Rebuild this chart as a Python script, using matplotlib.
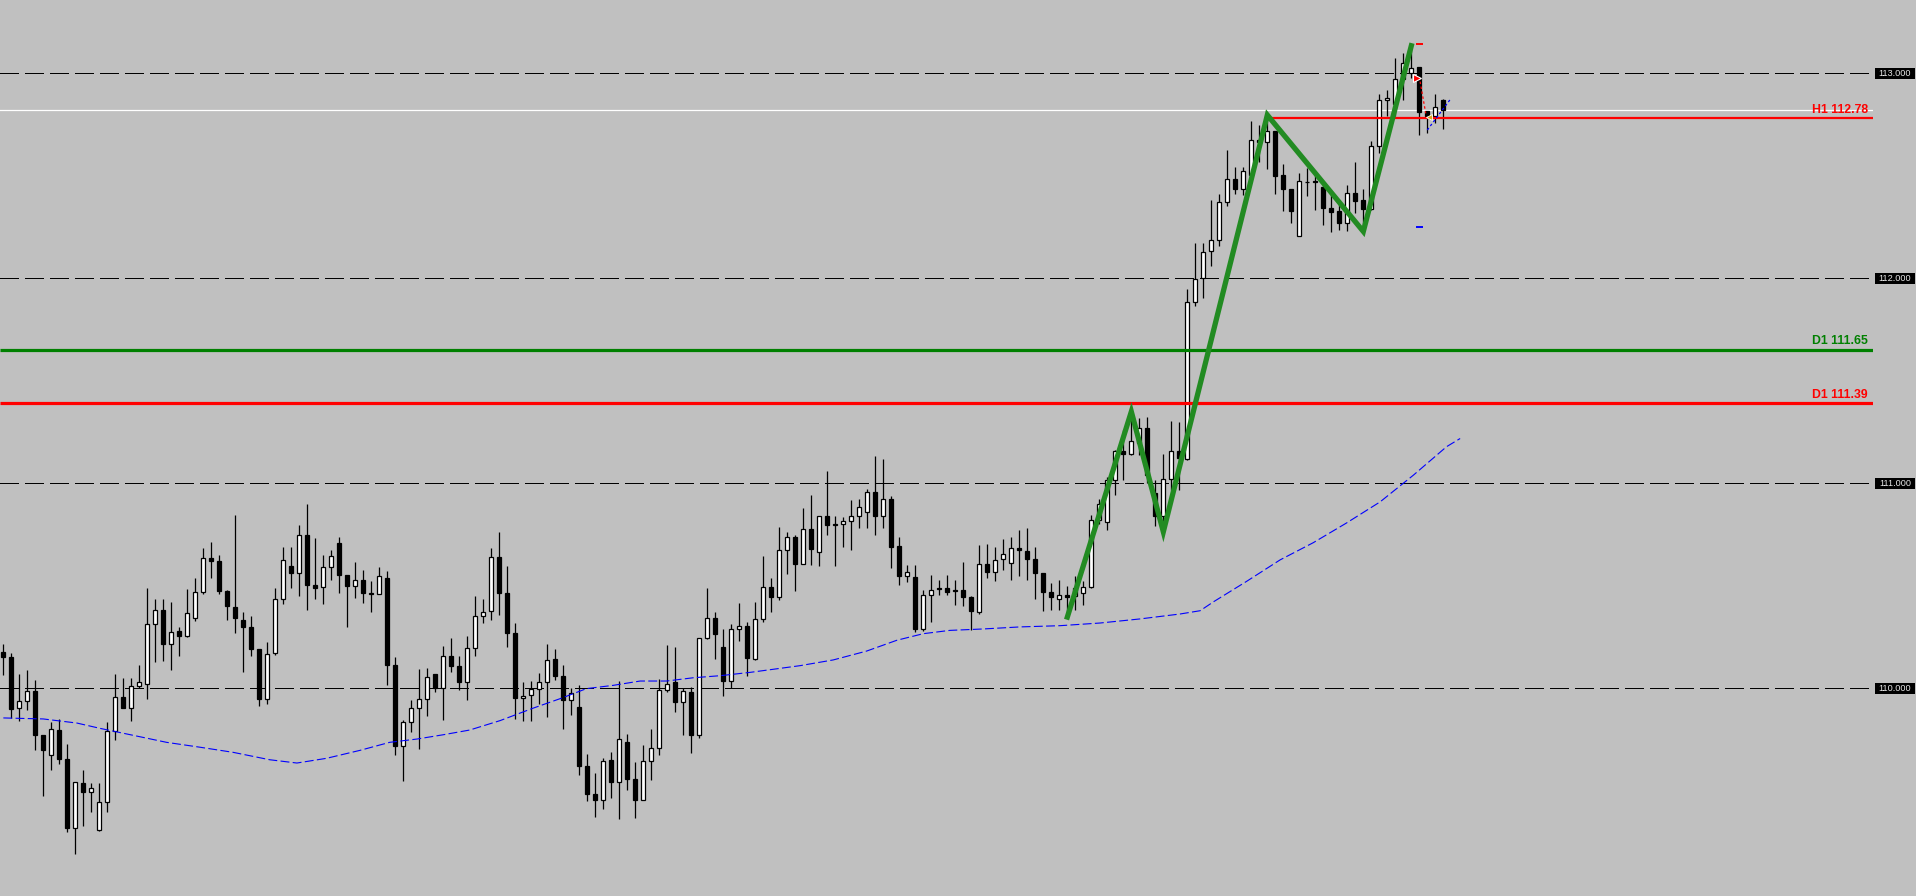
import matplotlib
matplotlib.use("Agg")
import matplotlib.pyplot as plt
from matplotlib.patches import Rectangle

# --------------------------------------------------------------------------- #
# data (one value per bar, bar 0 = leftmost)
# --------------------------------------------------------------------------- #
opens = [
    110.177, 110.153, 109.901, 109.937, 109.987, 109.772, 109.672, 109.797, 109.655, 109.315,
    109.537, 109.491, 109.306, 109.444, 109.792, 109.956, 109.901, 110.008, 110.020, 110.311,
    110.380, 110.213, 110.280, 110.252, 110.341, 110.468, 110.636, 110.621, 110.475, 110.397,
    110.333, 110.299, 110.192, 109.948, 110.169, 110.434, 110.597, 110.561, 110.748, 110.504,
    110.491, 110.590, 110.709, 110.553, 110.498, 110.528, 110.463, 110.459, 110.538, 110.114,
    109.715, 109.834, 109.901, 109.946, 110.070, 109.998, 110.158, 110.109, 110.028, 110.195,
    110.351, 110.376, 110.639, 110.465, 110.270, 109.950, 109.966, 109.995, 110.029, 110.141,
    110.060, 109.941, 109.909, 109.621, 109.485, 109.454, 109.650, 109.541, 109.738, 109.558,
    109.454, 109.644, 109.707, 109.990, 110.029, 109.932, 109.982, 109.769, 110.244, 110.341,
    110.202, 110.034, 110.288, 110.304, 110.143, 110.337, 110.493, 110.442, 110.673, 110.737,
    110.603, 110.776, 110.663, 110.839, 110.800, 110.800, 110.815, 110.839, 110.859, 110.956,
    110.839, 110.922, 110.693, 110.545, 110.543, 110.286, 110.454, 110.488, 110.488, 110.478,
    110.478, 110.446, 110.369, 110.605, 110.566, 110.629, 110.610, 110.685, 110.668, 110.631,
    110.561, 110.468, 110.434, 110.454, 110.447, 110.463, 110.493, 110.820, 110.808, 111.016,
    111.156, 111.140, 111.195, 111.268, 110.951, 110.837, 111.020, 111.156, 111.118, 111.884,
    112.000, 112.133, 112.187, 112.369, 112.482, 112.432, 112.502, 112.675, 112.661, 112.715,
    112.502, 112.432, 112.207, 112.470, 112.472, 112.442, 112.343, 112.327, 112.269, 112.416,
    112.380, 112.337, 112.645, 112.867, 112.847, 112.970, 112.998, 113.029, 112.815, 112.792,
    112.868,
]
highs = [
    110.216, 110.171, 110.070, 110.089, 110.041, 109.772, 109.833, 109.849, 109.728, 109.541,
    109.602, 109.537, 109.537, 109.833, 110.070, 110.050, 110.050, 110.114, 110.489, 110.433,
    110.436, 110.421, 110.299, 110.485, 110.538, 110.685, 110.714, 110.650, 110.480, 110.846,
    110.369, 110.350, 110.192, 110.226, 110.489, 110.689, 110.689, 110.797, 110.899, 110.733,
    110.650, 110.675, 110.738, 110.553, 110.616, 110.577, 110.520, 110.592, 110.572, 110.153,
    109.846, 109.943, 110.094, 110.098, 110.070, 110.203, 110.246, 110.158, 110.252, 110.449,
    110.436, 110.683, 110.759, 110.597, 110.319, 110.031, 110.036, 110.073, 110.216, 110.190,
    110.114, 109.998, 110.015, 109.680, 109.587, 109.660, 109.689, 110.036, 109.777, 109.641,
    109.724, 109.802, 110.046, 110.211, 110.202, 110.000, 110.005, 110.244, 110.489, 110.371,
    110.289, 110.314, 110.415, 110.322, 110.421, 110.646, 110.538, 110.785, 110.763, 110.748,
    110.878, 110.943, 110.839, 111.060, 110.837, 110.834, 110.919, 110.922, 110.972, 111.133,
    111.119, 110.938, 110.738, 110.600, 110.600, 110.480, 110.553, 110.528, 110.553, 110.528,
    110.616, 110.450, 110.699, 110.704, 110.689, 110.728, 110.737, 110.772, 110.782, 110.688,
    110.561, 110.512, 110.528, 110.499, 110.545, 110.520, 110.846, 110.920, 111.030, 111.163,
    111.260, 111.348, 111.317, 111.322, 111.016, 111.143, 111.301, 111.300, 111.944, 112.169,
    112.169, 112.382, 112.412, 112.622, 112.542, 112.542, 112.767, 112.747, 112.795, 112.715,
    112.556, 112.432, 112.512, 112.536, 112.522, 112.462, 112.422, 112.382, 112.452, 112.568,
    112.436, 112.667, 112.900, 112.917, 113.072, 113.100, 113.133, 113.030, 112.815, 112.898,
    112.873,
]
lows = [
    110.065, 109.854, 109.837, 109.891, 109.699, 109.472, 109.602, 109.631, 109.296, 109.192,
    109.328, 109.393, 109.301, 109.393, 109.748, 109.901, 109.837, 110.000, 109.948, 110.125,
    110.133, 110.089, 110.154, 110.247, 110.325, 110.457, 110.538, 110.457, 110.333, 110.267,
    110.076, 110.154, 109.911, 109.920, 110.159, 110.408, 110.486, 110.447, 110.379, 110.433,
    110.408, 110.528, 110.463, 110.296, 110.437, 110.413, 110.369, 110.459, 110.016, 109.672,
    109.545, 109.784, 109.701, 109.862, 109.979, 109.846, 110.076, 109.989, 109.940, 110.154,
    110.315, 110.330, 110.358, 110.198, 109.849, 109.837, 109.837, 109.922, 109.857, 110.037,
    109.800, 109.867, 109.574, 109.447, 109.369, 109.408, 109.462, 109.363, 109.501, 109.364,
    109.454, 109.550, 109.672, 109.980, 109.885, 109.769, 109.681, 109.756, 110.239, 110.140,
    109.959, 110.000, 110.228, 110.057, 110.135, 110.320, 110.369, 110.428, 110.558, 110.472,
    110.603, 110.600, 110.593, 110.748, 110.597, 110.689, 110.672, 110.782, 110.779, 110.748,
    110.782, 110.584, 110.501, 110.515, 110.273, 110.278, 110.320, 110.455, 110.452, 110.407,
    110.398, 110.285, 110.361, 110.535, 110.520, 110.574, 110.525, 110.545, 110.525, 110.434,
    110.374, 110.382, 110.382, 110.346, 110.382, 110.407, 110.488, 110.800, 110.772, 110.943,
    111.016, 111.138, 111.138, 111.000, 110.789, 110.762, 110.967, 110.967, 111.110, 111.865,
    111.904, 112.058, 112.157, 112.353, 112.408, 112.406, 112.502, 112.568, 112.532, 112.412,
    112.329, 112.269, 112.203, 112.402, 112.333, 112.259, 112.223, 112.233, 112.229, 112.317,
    112.227, 112.330, 112.612, 112.790, 112.790, 112.870, 112.974, 112.698, 112.709, 112.754,
    112.728,
]
closes = [
    110.150, 109.899, 109.937, 109.985, 109.769, 109.696, 109.800, 109.652, 109.315, 109.541,
    109.491, 109.512, 109.444, 109.792, 109.956, 109.901, 110.010, 110.029, 110.312, 110.380,
    110.213, 110.273, 110.252, 110.366, 110.468, 110.634, 110.618, 110.472, 110.398, 110.340,
    110.296, 110.189, 109.948, 110.166, 110.434, 110.624, 110.559, 110.746, 110.501, 110.486,
    110.590, 110.644, 110.550, 110.496, 110.528, 110.462, 110.457, 110.546, 110.111, 109.715,
    109.834, 109.901, 109.946, 110.054, 109.998, 110.156, 110.106, 110.028, 110.195, 110.351,
    110.371, 110.639, 110.462, 110.267, 109.950, 109.961, 109.995, 110.029, 110.137, 110.057,
    109.940, 109.976, 109.620, 109.481, 109.452, 109.644, 109.541, 109.751, 109.554, 109.452,
    109.644, 109.707, 109.992, 110.020, 109.932, 109.987, 109.769, 110.244, 110.341, 110.263,
    110.033, 110.289, 110.302, 110.145, 110.337, 110.493, 110.442, 110.673, 110.737, 110.603,
    110.776, 110.676, 110.839, 110.793, 110.793, 110.815, 110.839, 110.883, 110.956, 110.837,
    110.922, 110.686, 110.545, 110.566, 110.286, 110.454, 110.478, 110.481, 110.467, 110.472,
    110.442, 110.374, 110.605, 110.564, 110.624, 110.655, 110.683, 110.672, 110.629, 110.561,
    110.468, 110.444, 110.452, 110.444, 110.489, 110.493, 110.820, 110.899, 111.016, 111.156,
    111.143, 111.205, 111.268, 111.041, 110.837, 111.020, 111.156, 111.120, 111.884, 111.994,
    112.129, 112.187, 112.369, 112.482, 112.432, 112.520, 112.675, 112.661, 112.715, 112.498,
    112.432, 112.327, 112.472, 112.470, 112.466, 112.343, 112.323, 112.269, 112.416, 112.376,
    112.337, 112.645, 112.867, 112.876, 112.969, 113.050, 113.023, 112.811, 112.792, 112.833,
    112.820,
]

# moving average (blue dashed), sampled along the curve
ma_bar = [0, 5, 9.2, 12.1, 16.25, 20.4, 24.6, 28.75, 33.3, 36.7, 40.4, 44.6, 48.3,
          51.7, 55, 58.3, 62.1, 66.25, 69.6, 72.9, 76.25, 79.6, 82.9, 86.25, 89.6,
          93.3, 95.8, 99.6, 103.75, 107.9, 111.7, 115, 118.3, 122.5, 127.1, 132.1,
          137.1, 142.1, 147.1, 149.6, 151.25, 155.4, 159.6, 163.75, 167.9, 172.1,
          176.25, 180.4, 182.1]
ma_val = [109.854, 109.849, 109.829, 109.803, 109.769, 109.735, 109.711, 109.686,
          109.650, 109.634, 109.657, 109.696, 109.735, 109.751, 109.772, 109.795,
          109.841, 109.902, 109.948, 109.997, 110.013, 110.034, 110.034, 110.050,
          110.060, 110.076, 110.089, 110.109, 110.137, 110.180, 110.233, 110.265,
          110.281, 110.288, 110.298, 110.304, 110.317, 110.337, 110.361, 110.377,
          110.420, 110.520, 110.625, 110.709, 110.805, 110.908, 111.038, 111.177,
          111.217]

# zigzag swing points
zz_bar = [133, 141, 145, 158, 170, 176]
zz_val = [110.346, 111.348, 110.762, 112.795, 112.227, 113.133]

grid_levels = [110.0, 111.0, 112.0, 113.0]
grid_labels = ["110.000", "111.000", "112.000", "113.000"]

bid = 112.82
level_names = ["H1 112.78", "D1 111.65", "D1 111.39"]
level_vals = [112.78, 111.65, 111.39]
level_start = [158, None, None]

# trade history marks
sell_path_bar = [177.1, 177.8]
sell_path_val = [112.958, 112.803]
buy_path_bar = [178.0, 180.9]
buy_path_val = [112.722, 112.873]
mark_bar = 177
mark_hi, mark_lo = 113.141, 112.249

# --------------------------------------------------------------------------- #
# figure
# --------------------------------------------------------------------------- #
BG = "#c0c0c0"
W, H = 1916, 896
PLOT_W = 1873
PX_PER_BAR = 8.0
PX_PER_UNIT = 205.0
x0 = -3.33 / PX_PER_BAR
ytop = 113.0 + 73 / PX_PER_UNIT
ybot = ytop - H / PX_PER_UNIT

fig = plt.figure(figsize=(W / 100, H / 100), dpi=100, facecolor=BG)
ax = fig.add_axes([0, 0, PLOT_W / W, 1])
ax.set_facecolor(BG)
ax.set_xlim(x0, x0 + PLOT_W / PX_PER_BAR)
ax.set_ylim(ybot, ytop)
ax.axis("off")

# dashed price grid
for lv in grid_levels:
    ax.axhline(lv, color="black", lw=0.8, ls=(0, (16.2, 5.4)), zorder=1,
               antialiased=False)

# bid line
ax.axhline(bid, color="white", lw=0.9, zorder=1.5)

# candles
idx = list(range(len(opens)))
ax.vlines(idx, lows, highs, color="black", lw=0.9, zorder=2)
fills = ["white" if c >= o else "black" for o, c in zip(opens, closes)]
ax.bar(idx, [c - o for o, c in zip(opens, closes)], bottom=opens, width=0.5,
       color=fills, edgecolor="black", linewidth=0.9, zorder=3)

# moving average
ax.plot(ma_bar, ma_val, color="#0000ff", lw=0.8, ls=(0, (8, 3)), zorder=4)

# levels
lv_colors = ["#ff0000", "#008000", "#ff0000"]
lv_widths = [1.6, 2.3, 2.3]
xr = x0 + PLOT_W / PX_PER_BAR
for name, v, st, c, lw in zip(level_names, level_vals, level_start, lv_colors, lv_widths):
    xs = x0 if st is None else st
    ax.hlines(v, xs, xr, color=c, lw=lw, zorder=5)
    ax.text(x0 + 1868 / PX_PER_BAR, v + 2.5 / PX_PER_UNIT, name, color=c,
            fontsize=8.8, fontweight="bold", family="Liberation Sans",
            ha="right", va="bottom", zorder=6)

# zigzag
ax.plot(zz_bar, zz_val, color="#228b22", lw=3.8, zorder=6, solid_joinstyle="miter")

# trade marks
ax.plot(sell_path_bar, sell_path_val, color="#ff0000", lw=0.9, ls=(0, (2, 2)), zorder=7)
ax.plot(buy_path_bar, buy_path_val, color="#0000ff", lw=0.9, ls=(0, (2, 2)), zorder=7)
ax.plot([sell_path_bar[0] - 0.4], [sell_path_val[0] + 0.02], marker=">", ms=6,
        color="#ff0000", mec="white", mew=0.8, zorder=8)
ax.plot([buy_path_bar[0] + 0.2], [sell_path_val[1] - 0.02], marker="<", ms=5,
        color="#daa520", mec="white", mew=0.6, zorder=8)
ax.hlines([mark_hi], mark_bar - 0.45, mark_bar + 0.45, color="#ff0000", lw=1.4, zorder=7)
ax.hlines([mark_lo], mark_bar - 0.45, mark_bar + 0.45, color="#0000ff", lw=1.4, zorder=7)

# right price scale
rax = fig.add_axes([PLOT_W / W, 0, (W - PLOT_W) / W, 1])
rax.set_facecolor(BG)
rax.set_xlim(0, W - PLOT_W)
rax.set_ylim(ybot, ytop)
rax.axis("off")
bh = 11 / PX_PER_UNIT
for lv, lab in zip(grid_levels, grid_labels):
    rax.add_patch(Rectangle((2, lv - bh / 2), 40, bh, color="black", lw=0))
    rax.text(22, lv, lab, color="#e6e6e6", fontsize=6.6, family="Liberation Sans",
             ha="center", va="center")

fig.savefig("out.png", dpi=100, facecolor=BG)
